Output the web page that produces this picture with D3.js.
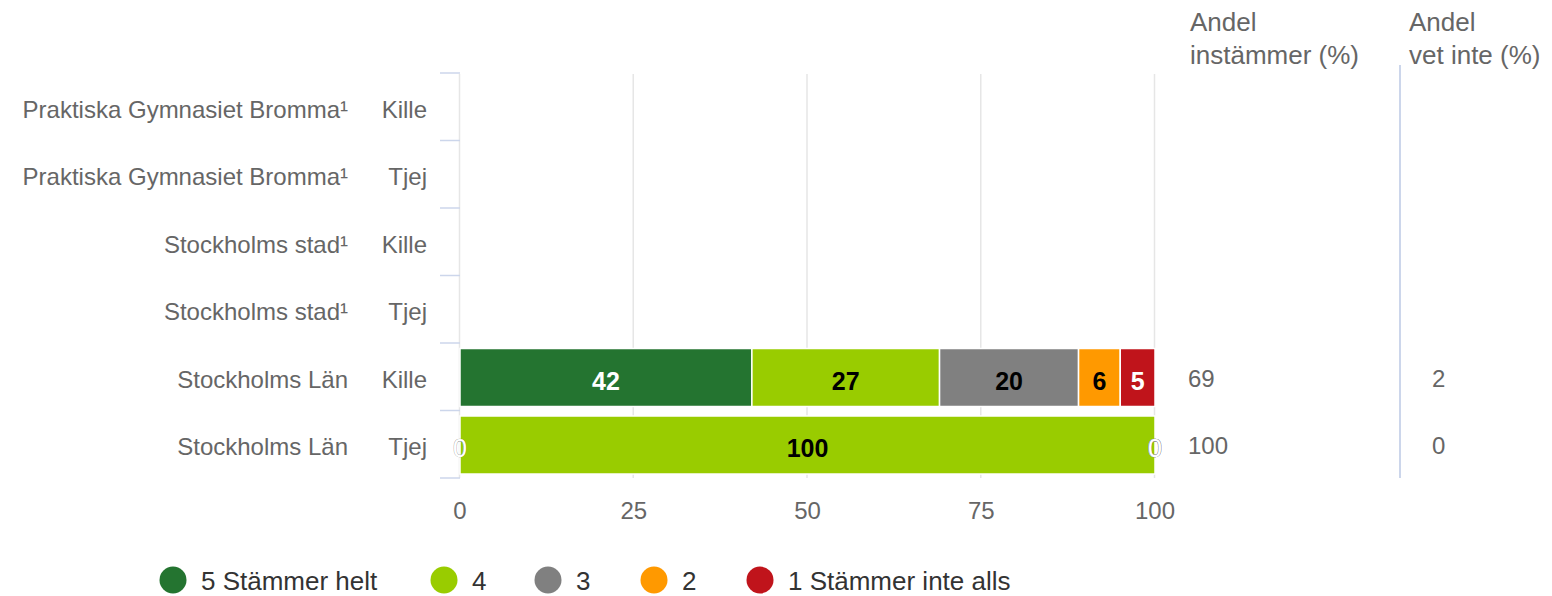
<!DOCTYPE html>
<html>
<head>
<meta charset="utf-8">
<script src="https://cdn.jsdelivr.net/npm/d3@7"></script>
<style>
    body { margin: 0; background: #fff; }
    svg { font-family: "Liberation Sans", Arial, sans-serif; }
</style>
</head>
<body>
<svg id="chart" width="1552" height="596"></svg>
<script>
// Chart data
var units = ["Praktiska Gymnasiet Bromma¹", "Praktiska Gymnasiet Bromma¹", "Stockholms stad¹", "Stockholms stad¹", "Stockholms Län", "Stockholms Län"];
var genders = ["Kille", "Tjej", "Kille", "Tjej", "Kille", "Tjej"];
var seriesNames = ["5 Stämmer helt", "4", "3", "2", "1 Stämmer inte alls"];
var seriesColors = ["#247430", "#99cc00", "#808080", "#ff9900", "#c0141b"];
var labelColors = ["#fff", "#000", "#000", "#000", "#fff"];
// values per row, one entry per series (null = no data)
var values = [
    null,
    null,
    null,
    null,
    [42, 27, 20, 6, 5],
    [0, 100, 0, 0, 0]
];
var shareAgree = [null, null, null, null, 69, 100];
var shareDontKnow = [null, null, null, null, 2, 0];
var xTicks = [0, 25, 50, 75, 100];

var svg = d3.select("#chart");

var plot = { left: 460, right: 1155, top: 73, bottom: 478 };

var x = d3.scaleLinear().domain([0, 100]).range([plot.left, plot.right]);
var y = d3.scaleBand().domain(d3.range(units.length)).range([plot.top, plot.bottom]);

function rowMid(i) { return y(i) + y.bandwidth() / 2; }

/**
 * Vertical grid lines
 */
svg.append("g")
    .selectAll("line")
    .data(xTicks)
    .enter().append("line")
    .attr("x1", function (d) { return x(d) - 0.5; })
    .attr("x2", function (d) { return x(d) - 0.5; })
    .attr("y1", plot.top + 1)
    .attr("y2", plot.bottom)
    .attr("stroke", "#e6e6e6")
    .attr("stroke-width", 1.5);

// Category axis tick marks
svg.append("g")
    .selectAll("line")
    .data(d3.range(units.length + 1))
    .enter().append("line")
    .attr("x1", plot.left - 20)
    .attr("x2", plot.left)
    .attr("y1", function (d) { return plot.top + d * y.step(); })
    .attr("y2", function (d) { return plot.top + d * y.step(); })
    .attr("stroke", "#ccd6eb")
    .attr("stroke-width", 1.5);

// Category labels
var labels = svg.append("g").attr("font-size", 24).attr("fill", "#666");
labels.selectAll("text.unit")
    .data(units)
    .enter().append("text")
    .attr("class", "unit")
    .attr("x", 348)
    .attr("y", function (d, i) { return rowMid(i) + 11; })
    .attr("text-anchor", "end")
    .text(function (d) { return d; });
labels.selectAll("text.gender")
    .data(genders)
    .enter().append("text")
    .attr("class", "gender")
    .attr("x", 427)
    .attr("y", function (d, i) { return rowMid(i) + 11; })
    .attr("text-anchor", "end")
    .text(function (d) { return d; });

// X axis labels
svg.append("g")
    .selectAll("text")
    .data(xTicks)
    .enter().append("text")
    .attr("x", function (d) { return x(d); })
    .attr("y", 519)
    .attr("text-anchor", "middle")
    .attr("font-size", 24)
    .attr("fill", "#666")
    .text(function (d) { return d; });

/**
 * Stacked bars
 */
var rows = [];
values.forEach(function (row, i) {
    if (!row) return;
    var acc = 0;
    row.forEach(function (v, s) {
        rows.push({ row: i, series: s, x0: acc, x1: acc + v, value: v });
        acc += v;
    });
});

svg.append("g")
    .selectAll("rect")
    .data(rows.filter(function (d) { return d.value > 0; }))
    .enter().append("rect")
    .attr("x", function (d) { return x(d.x0); })
    .attr("width", function (d) { return x(d.x1) - x(d.x0); })
    .attr("y", function (d) { return y(d.row) + 5.5; })
    .attr("height", 58)
    .attr("fill", function (d) { return seriesColors[d.series]; })
    .attr("stroke", "#fff")
    .attr("stroke-width", 1.5);

// Data labels
svg.append("g")
    .selectAll("text")
    .data(rows)
    .enter().append("text")
    .attr("x", function (d) { return x((d.x0 + d.x1) / 2); })
    .attr("y", function (d) { return rowMid(d.row) + 13; })
    .attr("text-anchor", "middle")
    .attr("font-size", 25)
    .attr("font-weight", function (d) { return d.value > 0 ? "bold" : "normal"; })
    .attr("fill", function (d) { return d.value > 0 ? labelColors[d.series] : "#fff"; })
    .attr("stroke", function (d) { return d.value > 0 ? "none" : "#888"; })
    .attr("stroke-width", 0.6)
    .attr("paint-order", "stroke")
    .text(function (d) { return d.value; });

/**
 * Side columns
 */
svg.append("line")
    .attr("x1", 1400).attr("x2", 1400)
    .attr("y1", 65).attr("y2", plot.bottom)
    .attr("stroke", "#ccd6eb")
    .attr("stroke-width", 2);

var headers = svg.append("g").attr("font-size", 26).attr("fill", "#666");
[["Andel", "instämmer (%)", 1190], ["Andel", "vet inte (%)", 1409]].forEach(function (h) {
    headers.append("text").attr("x", h[2]).attr("y", 31).text(h[0]);
    headers.append("text").attr("x", h[2]).attr("y", 64).text(h[1]);
});

function sideColumn(data, xPos) {
    svg.append("g").attr("font-size", 24).attr("fill", "#666")
        .selectAll("text")
        .data(data.map(function (v, i) { return { v: v, i: i }; }).filter(function (d) { return d.v !== null; }))
        .enter().append("text")
        .attr("x", xPos)
        .attr("y", function (d) { return rowMid(d.i) + 10; })
        .text(function (d) { return d.v; });
}
sideColumn(shareAgree, 1188);
sideColumn(shareDontKnow, 1432);

/**
 * Legend
 */
var legendX = [173, 444, 548, 654, 760];
var legend = svg.append("g")
    .selectAll("g")
    .data(seriesNames)
    .enter().append("g")
    .attr("transform", function (d, i) { return "translate(" + legendX[i] + ",580)"; });
legend.append("circle")
    .attr("r", 13.5)
    .attr("fill", function (d, i) { return seriesColors[i]; });
legend.append("text")
    .attr("x", 28)
    .attr("y", 10)
    .attr("font-size", 26)
    .attr("fill", "#333")
    .text(function (d) { return d; });
</script>
</body>
</html>
